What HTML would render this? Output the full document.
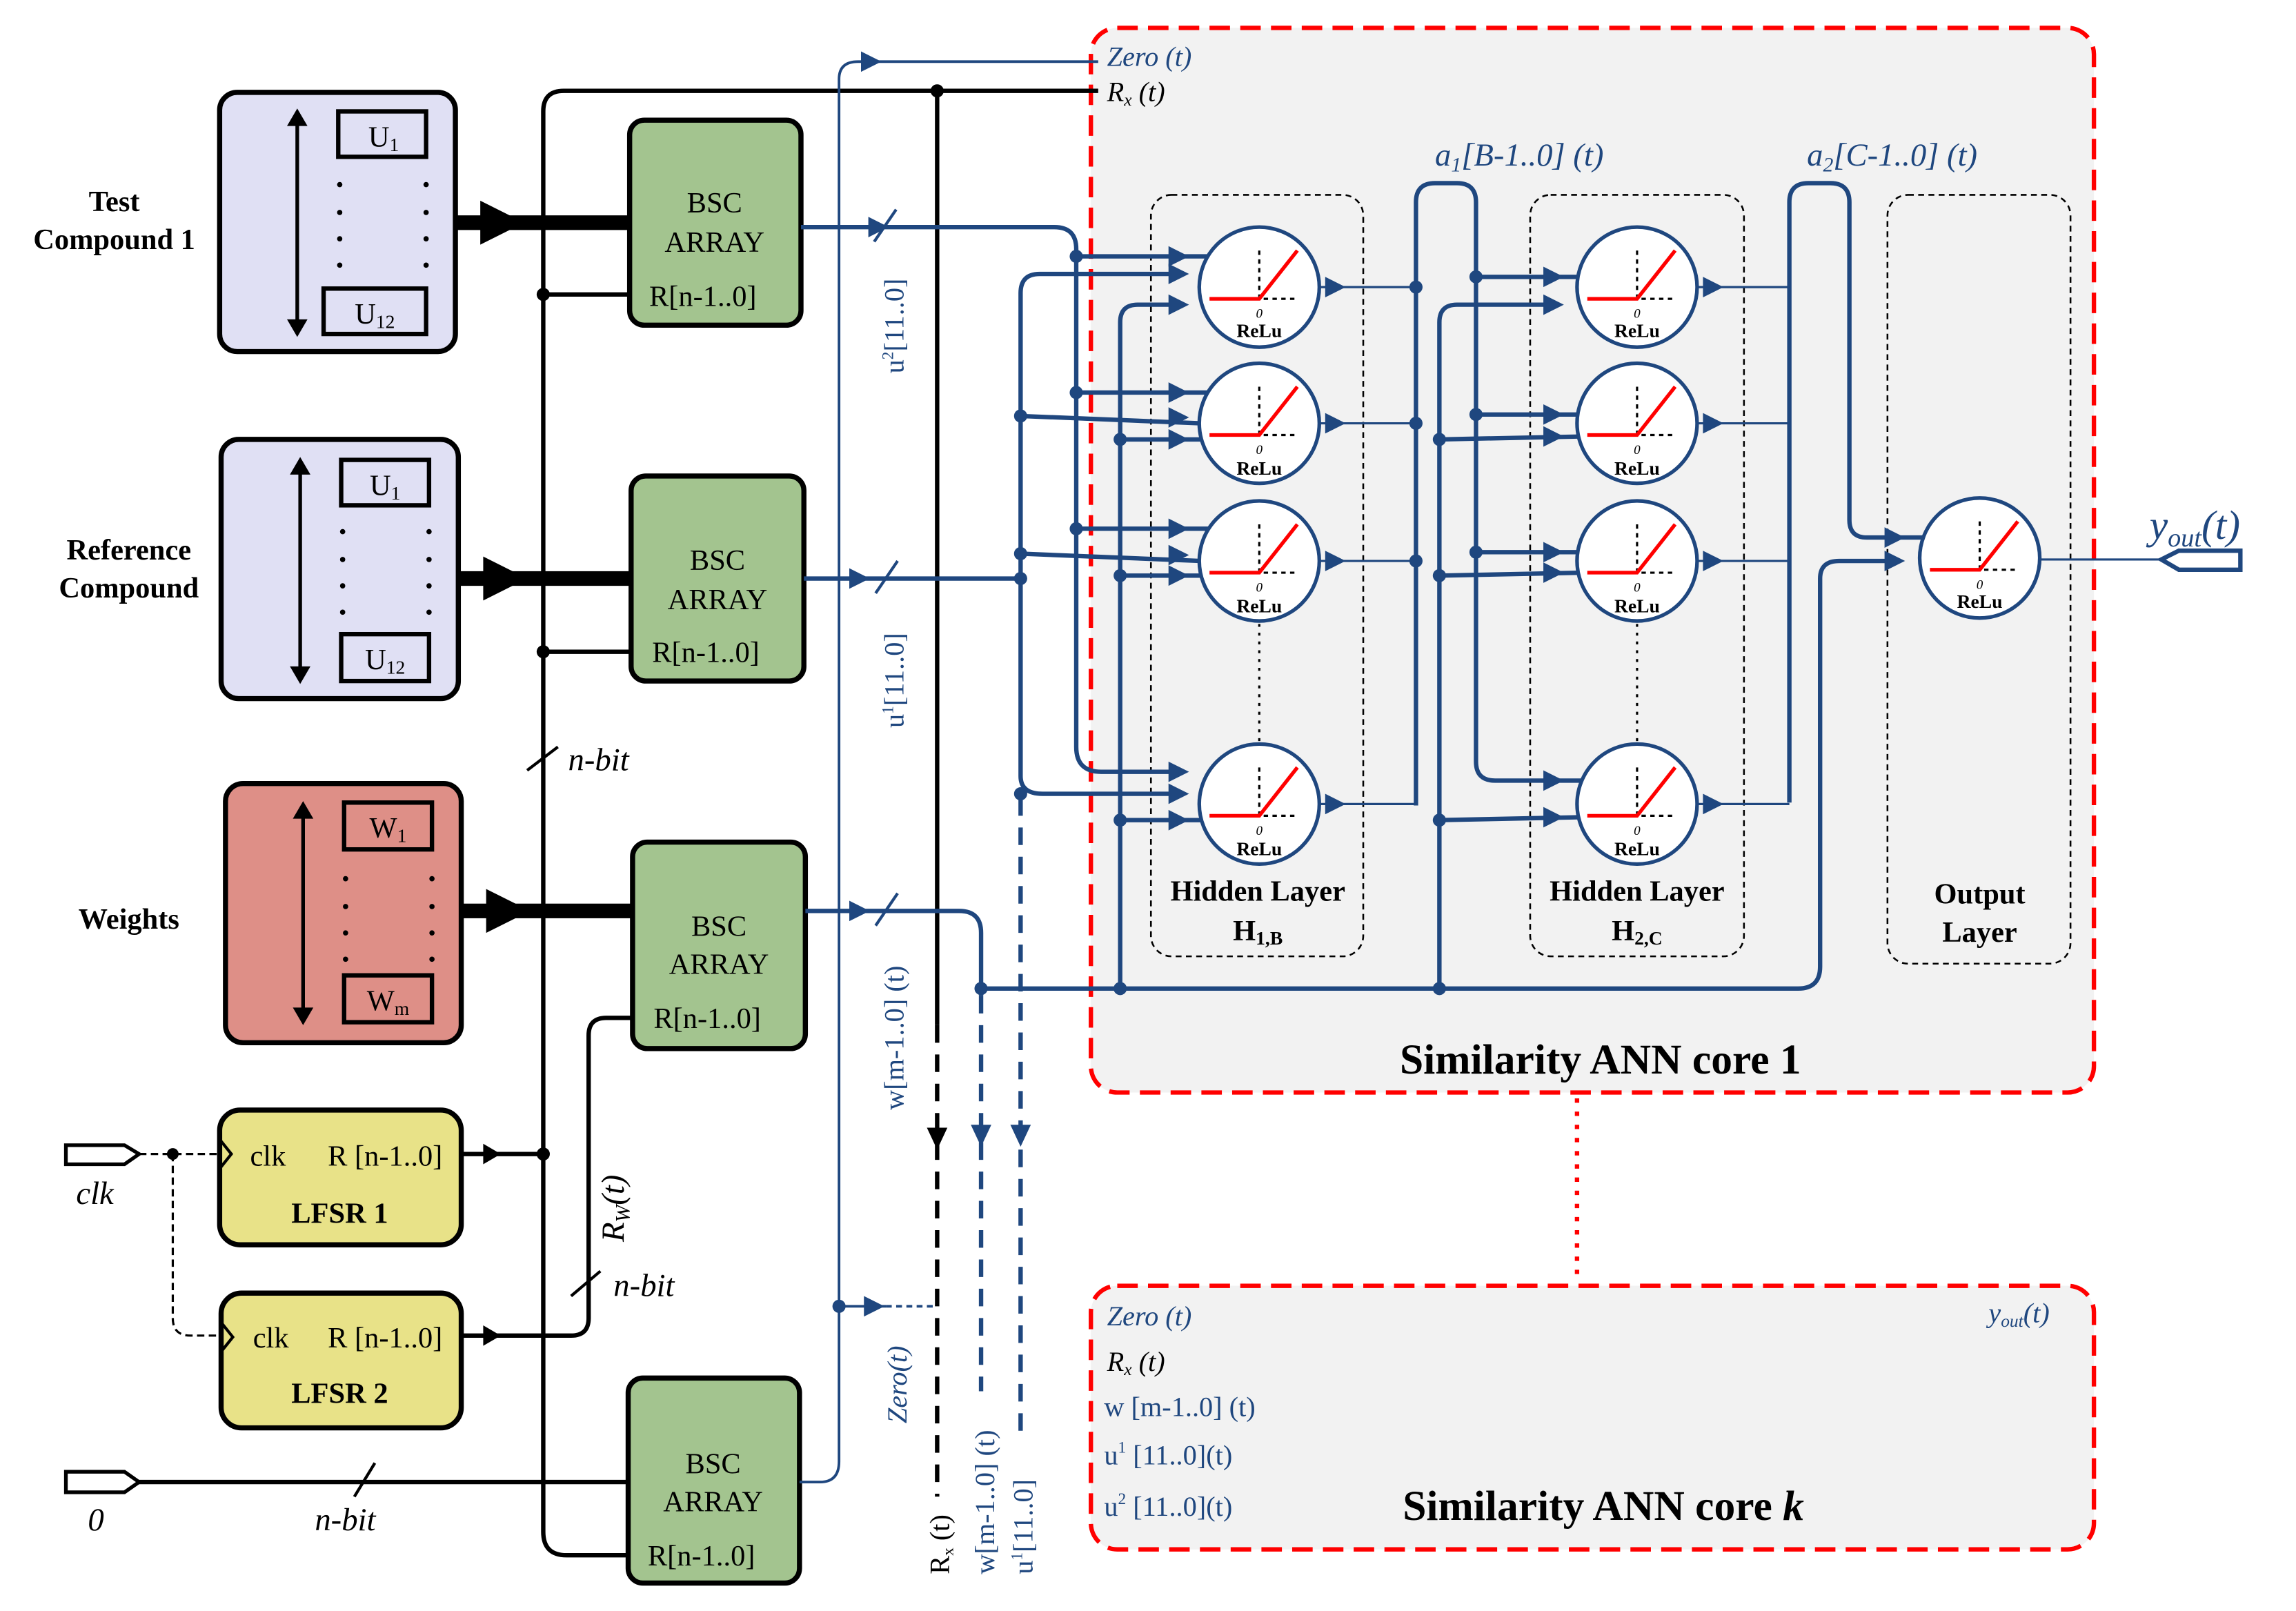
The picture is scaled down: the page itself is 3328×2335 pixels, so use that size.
<!DOCTYPE html>
<html><head><meta charset="utf-8"><style>
html,body{margin:0;padding:0;background:#fff}
svg{display:block}
text{font-family:"Liberation Serif",serif}
.s{font-family:"Liberation Sans",sans-serif}
.b{stroke:#1f477f;fill:none}
.k{stroke:#000;fill:none}
</style></head><body>
<svg width="3328" height="2335" viewBox="0 0 1568 1100" xmlns="http://www.w3.org/2000/svg">
<defs>
<g id="nr">
<circle cx="0" cy="0" r="41" fill="#fff" stroke="#1f477f" stroke-width="2.5"/>
<path d="M0,-25 V8 H26" stroke="#000" stroke-width="1.5" stroke-dasharray="3,3" fill="none"/>
<path d="M-34,8 H0 L26,-25" stroke="#f00" stroke-width="2.5" fill="none"/>
</g>
<path id="at" d="M-10,-7 L4,0 L-10,7z" fill="#1f477f"/>
</defs>

<rect x="745" y="19" width="685" height="727" rx="18" fill="#f2f2f2" stroke="#f00" stroke-width="3" stroke-dasharray="14,7"/>
<rect x="745" y="878" width="685" height="180" rx="18" fill="#f2f2f2" stroke="#f00" stroke-width="3" stroke-dasharray="14,7"/>
<line x1="1077" y1="750" x2="1077" y2="875" stroke="#f00" stroke-width="3" stroke-dasharray="3,6"/>

<rect x="786" y="133" width="145" height="520" rx="14" fill="none" stroke="#000" stroke-width="1.2" stroke-dasharray="4,3"/>
<rect x="1045" y="133" width="146" height="520" rx="14" fill="none" stroke="#000" stroke-width="1.2" stroke-dasharray="4,3"/>
<rect x="1289" y="133" width="125" height="525" rx="14" fill="none" stroke="#000" stroke-width="1.2" stroke-dasharray="4,3"/>

<g stroke="#000" stroke-width="3.5">
<rect x="150" y="63" width="161" height="177" rx="12" fill="#e0e0f4"/>
<rect x="151" y="300" width="162" height="177" rx="12" fill="#e0e0f4"/>
<rect x="154" y="535" width="161" height="177" rx="12" fill="#de8f87"/>
<rect x="150" y="758" width="165" height="92" rx="14" fill="#e8e288"/>
<rect x="151" y="883" width="164" height="92" rx="14" fill="#e8e288"/>
<rect x="430" y="82" width="117" height="140" rx="10" fill="#a3c48f"/>
<rect x="431" y="325" width="118" height="140" rx="10" fill="#a3c48f"/>
<rect x="432" y="575" width="118" height="141" rx="10" fill="#a3c48f"/>
<rect x="429" y="941" width="117" height="140" rx="10" fill="#a3c48f"/>
</g>
<g stroke="#000" stroke-width="3" fill="none">
<rect x="231" y="76" width="60" height="31"/><rect x="221" y="197" width="70" height="31"/>
<rect x="233" y="314" width="60" height="31"/><rect x="233" y="433" width="60" height="32"/>
<rect x="235" y="548" width="60" height="32"/><rect x="235" y="666" width="60" height="32"/>
</g>
<g stroke="#000" stroke-width="2.5">
<line x1="203" y1="84" x2="203" y2="220"/><line x1="205" y1="322" x2="205" y2="457"/><line x1="207" y1="557" x2="207" y2="690"/>
</g>
<g fill="#000">
<path d="M196,86 L203,74 L210,86z M196,218 L203,230 L210,218z"/>
<path d="M198,324 L205,312 L212,324z M198,455 L205,467 L212,455z"/>
<path d="M200,559 L207,547 L214,559z M200,688 L207,700 L214,688z"/>
<g id="dots"><circle cx="232" cy="126" r="1.8"/><circle cx="232" cy="145" r="1.8"/><circle cx="232" cy="163" r="1.8"/><circle cx="232" cy="181" r="1.8"/><circle cx="291" cy="126" r="1.8"/><circle cx="291" cy="145" r="1.8"/><circle cx="291" cy="163" r="1.8"/><circle cx="291" cy="181" r="1.8"/></g>
<use href="#dots" x="2" y="237"/><use href="#dots" x="4" y="474"/>
</g>
<g fill="#000">
<rect x="311" y="147" width="119" height="10"/><path d="M328,137 L358,152 L328,167z"/>
<rect x="313" y="390" width="118" height="10"/><path d="M330,380 L360,395 L330,410z"/>
<rect x="315" y="617" width="117" height="10"/><path d="M332,607 L362,622 L332,637z"/>
</g>

<g class="k" stroke-width="3">
<path d="M750,62 H385 Q371,62 371,76 V1046 Q371,1062 387,1062 H429"/>
<line x1="371" y1="201" x2="430" y2="201"/>
<line x1="371" y1="445" x2="431" y2="445"/>
<line x1="315" y1="788" x2="371" y2="788"/>
<path d="M315,912 H390 Q402,912 402,900 V707 Q402,695 414,695 H432"/>
<line x1="95" y1="1012" x2="429" y2="1012"/>
<line x1="640" y1="62" x2="640" y2="700"/>
<line x1="640" y1="700" x2="640" y2="1022" stroke-dasharray="12,8"/>
</g>
<g fill="#000"><circle cx="640" cy="62" r="4.5"/><circle cx="371" cy="201" r="4.5"/><circle cx="371" cy="445" r="4.5"/><circle cx="371" cy="788" r="4.5"/>
<path d="M330,781 L342,788 L330,795z"/><path d="M330,905 L342,912 L330,919z"/>
<path d="M633,770 L640,785 L647,770z"/></g>
<g stroke="#000" stroke-width="2">
<line x1="360" y1="526" x2="381" y2="510"/><line x1="390" y1="885" x2="410" y2="868"/><line x1="242" y1="1022" x2="256" y2="999"/>
</g>
<g stroke="#000" stroke-width="2.5" fill="#fff">
<path d="M45,782 H85 L95,788 L85,795 H45z"/>
<path d="M45,1005 H85 L95,1012 L85,1019 H45z"/>
</g>
<g stroke="#000" stroke-width="1.5" fill="none" stroke-dasharray="5,3">
<line x1="95" y1="788" x2="150" y2="788"/>
<path d="M118,788 V900 Q118,912 130,912 H151"/>
</g>
<circle cx="118" cy="788" r="4" fill="#000"/>
<path d="M150,778 L158,788 L150,798" stroke="#000" stroke-width="2" fill="none"/>
<path d="M151,903 L159,913 L151,923" stroke="#000" stroke-width="2" fill="none"/>

<g class="b" stroke-width="3">
<path d="M547,155 H720 Q735,155 735,170 V510 Q735,527 752,527 H800"/>
<path d="M549,395 H697"/>
<path d="M697,200 Q697,187 710,187 H800 M697,200 V530 Q697,542 712,542 H800"/>
<path d="M550,622 H655 Q670,622 670,637 V680"/>
<path d="M765,675 V220 Q765,208 777,208 H800"/>
<path d="M670,675 H1228 Q1243,675 1243,660 V395 Q1243,383 1256,383 H1293"/>
<path d="M983,675 V220 Q983,208 995,208 H1060"/>
</g>
<g class="b" stroke-width="1.8">
<path d="M546,1012 H560 Q573,1012 573,998 V54 Q573,42 586,42 H750"/>
<line x1="573" y1="892" x2="605" y2="892"/>
<line x1="605" y1="892" x2="638" y2="892" stroke-dasharray="4,3"/>
</g>
<g class="b" stroke-width="3" stroke-dasharray="12,8">
<line x1="670" y1="680" x2="670" y2="950"/><line x1="697" y1="545" x2="697" y2="985"/>
</g>
<g fill="#1f477f">
<path d="M663,768 L670,783 L677,768z"/><path d="M690,768 L697,783 L704,768z"/>
<use href="#at" x="598" y="42"/><use href="#at" x="600" y="892"/><circle cx="573" cy="892" r="4.5"/>
<use href="#at" x="603" y="155"/><use href="#at" x="590" y="395"/><use href="#at" x="590" y="622"/>
</g>
<g stroke="#1f477f" stroke-width="2"><line x1="597" y1="165" x2="612" y2="143"/><line x1="598" y1="405" x2="613" y2="383"/><line x1="598" y1="632" x2="613" y2="610"/></g>

<g class="b" stroke-width="3">
<line x1="735" y1="175" x2="825" y2="175"/><line x1="735" y1="268" x2="825" y2="268"/><line x1="735" y1="361" x2="825" y2="361"/>
<line x1="697" y1="284" x2="820" y2="289"/><line x1="697" y1="378" x2="820" y2="383"/>
<line x1="765" y1="300" x2="822" y2="300"/><line x1="765" y1="393" x2="822" y2="393"/><line x1="765" y1="560" x2="825" y2="560"/>
<path d="M967,550 V138 Q967,125 980,125 H995 Q1008,125 1008,138 V520 Q1008,533 1021,533 H1080"/>
<line x1="1008" y1="189" x2="1080" y2="189"/><line x1="1008" y1="283" x2="1080" y2="283"/><line x1="1008" y1="377" x2="1080" y2="377"/>
<line x1="983" y1="300" x2="1080" y2="298"/><line x1="983" y1="393" x2="1080" y2="391"/><line x1="983" y1="560" x2="1080" y2="558"/>
<path d="M1222,548 V138 Q1222,125 1235,125 H1250 Q1263,125 1263,138 V355 Q1263,367 1275,367 H1315"/>
</g>
<g class="b" stroke-width="1.5">
<line x1="901" y1="196" x2="967" y2="196"/><line x1="901" y1="289" x2="967" y2="289"/><line x1="901" y1="383" x2="967" y2="383"/><line x1="901" y1="549" x2="967" y2="549"/>
<line x1="1159" y1="196" x2="1222" y2="196"/><line x1="1159" y1="289" x2="1222" y2="289"/><line x1="1159" y1="383" x2="1222" y2="383"/><line x1="1159" y1="549" x2="1222" y2="549"/>
<line x1="1393" y1="382" x2="1480" y2="382"/>
</g>
<g fill="#1f477f">
<circle cx="735" cy="175" r="4.5"/><circle cx="735" cy="268" r="4.5"/><circle cx="735" cy="361" r="4.5"/>
<circle cx="697" cy="284" r="4.5"/><circle cx="697" cy="378" r="4.5"/><circle cx="697" cy="395" r="4.5"/><circle cx="697" cy="542" r="4.5"/>
<circle cx="765" cy="300" r="4.5"/><circle cx="765" cy="393" r="4.5"/><circle cx="765" cy="560" r="4.5"/><circle cx="765" cy="675" r="4.5"/><circle cx="670" cy="675" r="4.5"/>
<circle cx="967" cy="196" r="4.5"/><circle cx="967" cy="289" r="4.5"/><circle cx="967" cy="383" r="4.5"/>
<circle cx="1008" cy="189" r="4.5"/><circle cx="1008" cy="283" r="4.5"/><circle cx="1008" cy="377" r="4.5"/>
<circle cx="983" cy="300" r="4.5"/><circle cx="983" cy="393" r="4.5"/><circle cx="983" cy="560" r="4.5"/><circle cx="983" cy="675" r="4.5"/>
<use href="#at" x="808" y="175"/><use href="#at" x="808" y="268"/><use href="#at" x="808" y="361"/><use href="#at" x="808" y="527"/>
<use href="#at" x="808" y="187"/><use href="#at" x="808" y="285"/><use href="#at" x="808" y="379"/><use href="#at" x="808" y="542"/>
<use href="#at" x="808" y="208"/><use href="#at" x="808" y="300"/><use href="#at" x="808" y="393"/><use href="#at" x="808" y="560"/>
<use href="#at" x="1064" y="189"/><use href="#at" x="1064" y="283"/><use href="#at" x="1064" y="377"/><use href="#at" x="1064" y="533"/>
<use href="#at" x="1064" y="208"/><use href="#at" x="1064" y="298"/><use href="#at" x="1064" y="391"/><use href="#at" x="1064" y="558"/>
<use href="#at" x="1297" y="367"/><use href="#at" x="1297" y="383"/>
<use href="#at" x="915" y="196"/><use href="#at" x="915" y="289"/><use href="#at" x="915" y="383"/><use href="#at" x="915" y="549"/>
<use href="#at" x="1173" y="196"/><use href="#at" x="1173" y="289"/><use href="#at" x="1173" y="383"/><use href="#at" x="1173" y="549"/>
</g>
<use href="#nr" x="860" y="196"/><use href="#nr" x="860" y="289"/><use href="#nr" x="860" y="383"/><use href="#nr" x="860" y="549"/>
<use href="#nr" x="1118" y="196"/><use href="#nr" x="1118" y="289"/><use href="#nr" x="1118" y="383"/><use href="#nr" x="1118" y="549"/>
<use href="#nr" x="1352" y="381"/>
<g stroke="#000" stroke-width="1.5" stroke-dasharray="2,4"><line x1="860" y1="426" x2="860" y2="507"/><line x1="1118" y1="426" x2="1118" y2="507"/></g>
<path d="M1530,376 H1488 L1476,382 L1488,389 H1530z" fill="#fff" stroke="#1f477f" stroke-width="3"/>

<g font-weight="bold" font-size="13" text-anchor="middle">
<text x="860" y="230">ReLu</text><text x="860" y="324">ReLu</text><text x="860" y="418">ReLu</text><text x="860" y="584">ReLu</text>
<text x="1118" y="230">ReLu</text><text x="1118" y="324">ReLu</text><text x="1118" y="418">ReLu</text><text x="1118" y="584">ReLu</text>
<text x="1352" y="415">ReLu</text>
</g>
<g font-style="italic" font-size="9" text-anchor="middle">
<text x="860" y="217">0</text><text x="860" y="310">0</text><text x="860" y="404">0</text><text x="860" y="570">0</text>
<text x="1118" y="217">0</text><text x="1118" y="310">0</text><text x="1118" y="404">0</text><text x="1118" y="570">0</text>
<text x="1352" y="402">0</text>
</g>

<g font-weight="bold" font-size="20" text-anchor="middle">
<text x="78" y="144">Test</text><text x="78" y="170">Compound 1</text>
<text x="88" y="382">Reference</text><text x="88" y="408">Compound</text>
<text x="88" y="634">Weights</text>
<text x="232" y="835">LFSR 1</text><text x="232" y="958">LFSR 2</text>
<text x="859" y="615">Hidden Layer</text><text x="859" y="642">H<tspan font-size="13" dy="3">1,B</tspan></text>
<text x="1118" y="615">Hidden Layer</text><text x="1118" y="642">H<tspan font-size="13" dy="3">2,C</tspan></text>
<text x="1352" y="617">Output</text><text x="1352" y="643">Layer</text>
<text x="1093" y="733" font-size="29">Similarity ANN core 1</text>
<text x="1095" y="1038" font-size="29">Similarity ANN core <tspan font-style="italic">k</tspan></text>
</g>
<g font-size="20" text-anchor="middle">
<text x="488" y="145">BSC</text><text x="488" y="172">ARRAY</text><text x="480" y="209">R[n-1..0]</text>
<text x="490" y="389">BSC</text><text x="490" y="416">ARRAY</text><text x="482" y="452">R[n-1..0]</text>
<text x="491" y="639">BSC</text><text x="491" y="665">ARRAY</text><text x="483" y="702">R[n-1..0]</text>
<text x="487" y="1006">BSC</text><text x="487" y="1032">ARRAY</text><text x="479" y="1069">R[n-1..0]</text>
<text x="262" y="100">U<tspan font-size="13" dy="3">1</tspan></text>
<text x="256" y="221">U<tspan font-size="13" dy="3">12</tspan></text>
<text x="263" y="338">U<tspan font-size="13" dy="3">1</tspan></text>
<text x="263" y="457">U<tspan font-size="13" dy="3">12</tspan></text>
<text x="265" y="572">W<tspan font-size="13" dy="3">1</tspan></text>
<text x="265" y="690">W<tspan font-size="13" dy="3">m</tspan></text>
<text x="183" y="796">clk</text><text x="263" y="796">R [n-1..0]</text>
<text x="185" y="920">clk</text><text x="263" y="920">R [n-1..0]</text>
</g>
<g font-style="italic" font-size="22">
<text x="52" y="822">clk</text><text x="60" y="1045">0</text>
<text x="215" y="1045">n-bit</text><text x="388" y="526">n-bit</text><text x="419" y="885">n-bit</text>
<text transform="translate(426,848) rotate(-90)">R<tspan font-size="14" dy="4">W</tspan><tspan dy="-4">(t)</tspan></text>
</g>
<g font-style="italic" font-size="19" fill="#1f477f">
<text x="756" y="45">Zero (t)</text>
<text x="756" y="905">Zero (t)</text>
<text x="1358" y="903">y<tspan font-size="12" dy="3">out</tspan><tspan dy="-3">(t)</tspan></text>
<text x="980" y="113" font-size="22">a<tspan font-size="14" dy="4">1</tspan><tspan dy="-4">[B-1..0] (t)</tspan></text>
<text x="1234" y="113" font-size="22">a<tspan font-size="14" dy="4">2</tspan><tspan dy="-4">[C-1..0] (t)</tspan></text>
<text x="1468" y="368" font-size="28">y<tspan font-size="18" dy="5">out</tspan><tspan dy="-5">(t)</tspan></text>
</g>
<g font-style="italic" font-size="19" fill="#000">
<text x="756" y="69">R<tspan font-size="12" dy="3">x</tspan><tspan dy="-3"> (t)</tspan></text>
<text x="756" y="936">R<tspan font-size="12" dy="3">x</tspan><tspan dy="-3"> (t)</tspan></text>
</g>
<g font-size="19" fill="#1f477f">
<text x="754" y="967">w [m-1..0] (t)</text>
<text x="754" y="1000">u<tspan font-size="11" dy="-8">1</tspan><tspan dy="8"> [11..0](t)</tspan></text>
<text x="754" y="1035">u<tspan font-size="11" dy="-8">2</tspan><tspan dy="8"> [11..0](t)</tspan></text>
</g>
<g class="s" font-size="19" fill="#1f477f">
<text transform="translate(617,255) rotate(-90)">u<tspan font-size="11" dy="-7">2</tspan><tspan dy="7">[11..0]</tspan></text>
<text transform="translate(617,497) rotate(-90)">u<tspan font-size="11" dy="-7">1</tspan><tspan dy="7">[11..0]</tspan></text>
<text transform="translate(617,758) rotate(-90)">w[m-1..0] (t)</text>
<text transform="translate(619,972) rotate(-90)" font-style="italic">Zero(t)</text>
<text transform="translate(679,1075) rotate(-90)">w[m-1..0] (t)</text>
<text transform="translate(705,1075) rotate(-90)">u<tspan font-size="11" dy="-7">1</tspan><tspan dy="7">[11..0]</tspan></text>
<text transform="translate(648,1075) rotate(-90)" fill="#000">R<tspan font-size="11" dy="3">x</tspan><tspan dy="-3"> (t)</tspan></text>
</g>
</svg>
</body></html>
